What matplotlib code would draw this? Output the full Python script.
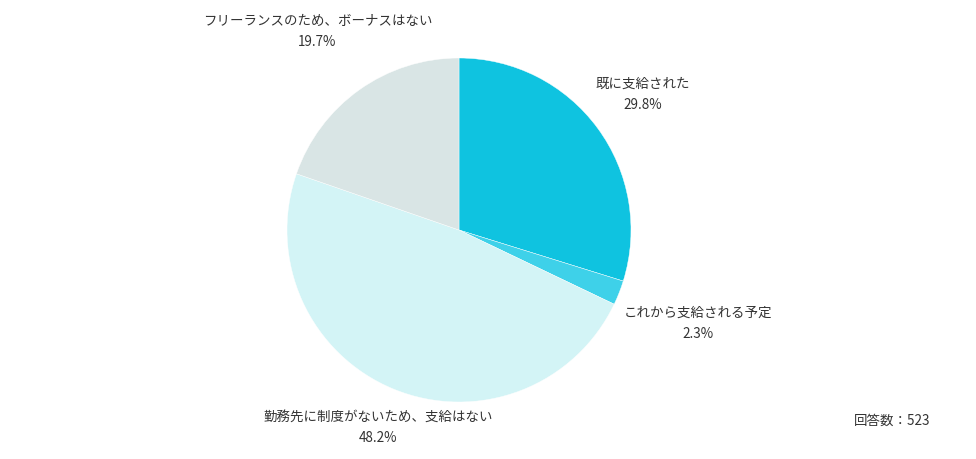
import numpy as np
import matplotlib
matplotlib.use("Agg")
import matplotlib.pyplot as plt

plt.rcParams['font.family'] = ['Noto Sans CJK JP', 'DejaVu Sans']

categories = ["既に支給された", "これから支給される予定", "勤務先に制度がないため、支給はない", "フリーランスのため、ボーナスはない"]
values = [29.8, 2.3, 48.2, 19.7]
colors = ["#0fc3e0", "#3ed1e9", "#d3f4f6", "#d9e5e5"]
total_label = "回答数：523"

W, H = 976, 459
fig = plt.figure(figsize=(W / 100, H / 100), dpi=100)
ax = fig.add_axes([0, 0, 1, 1])

cx, cy, R = 459, H - 230, 172
wedges, _ = ax.pie(values, colors=colors, startangle=90, counterclock=False,
                   center=(cx, cy), radius=R, frame=True,
                   wedgeprops=dict(linewidth=0.3, edgecolor='white'))
ax.set_xlim(0, W)
ax.set_ylim(0, H)
ax.set_aspect('equal')
ax.axis('off')

# label distance factors (layout)
dist = [1.33, 1.49, 1.24, 1.42]
cum = np.cumsum([0] + values[:-1])
for i, (lab, v) in enumerate(zip(categories, values)):
    mid = (cum[i] + v / 2) / sum(values) * 2 * np.pi
    x = cx + dist[i] * R * np.sin(mid)
    y = cy + dist[i] * R * np.cos(mid)
    ax.text(x, y + 10.5, lab, ha='center', va='center', fontsize=9.7, color='#333333')
    ax.text(x, y - 10.5, f"{v:.1f}%", ha='center', va='center', fontsize=9.7, color='#333333')

ax.text(930, H - 421, total_label, ha='right', va='center', fontsize=9.7, color='#333333')

fig.savefig("out.png", dpi=100)
